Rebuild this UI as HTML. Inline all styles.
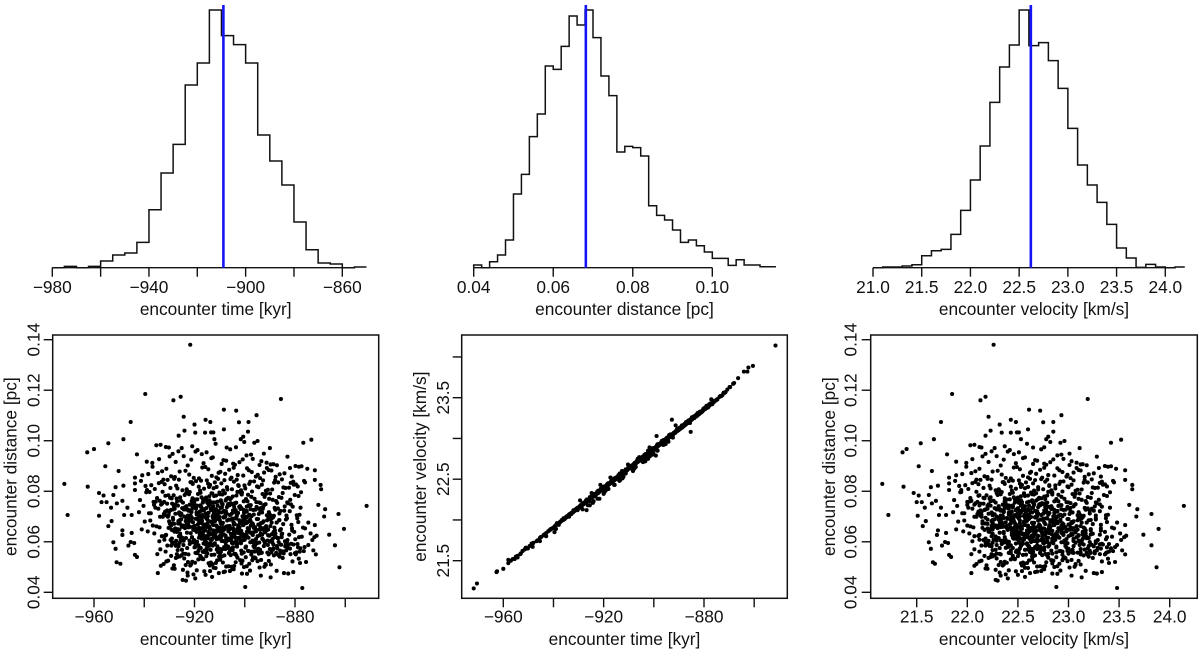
<!DOCTYPE html>
<html lang="en">
<head>
<meta charset="utf-8">
<title>Encounter parameter distributions</title>
<style>
html,body{margin:0;padding:0;background:#fff;}
svg{display:block;}
text{font-family:"Liberation Sans",Arial,sans-serif;font-size:17.3px;fill:#111;}
</style>
</head>
<body>
<svg id="chart" width="1200" height="652" viewBox="0 0 1200 652" xmlns="http://www.w3.org/2000/svg"></svg>
<script>
// ---------- histogram data ----------
const timeBinStart = -980;
const timeBinWidth = 5;
const timeCounts = [0,4,0,4,20,38,44,76,174,284,370,548,614,773,696,669,614,398,320,248,137,54,14,11,0,2];
const timeHistTicks = [-980,-960,-940,-920,-900,-880,-860];
const timeHistLabels = ['−980','','−940','','−900','','−860'];
const timeBest = -909.2;

const distBinStart = 0.04;
const distBinWidth = 0.002;
const distCounts = [8,0,18,38,83,221,280,393,461,605,595,664,755,728,773,690,575,516,347,364,360,335,186,157,143,113,76,83,66,47,28,28,7,24,8,8,3,3];
const distHistTicks = [0.04,0.06,0.08,0.10];
const distHistLabels = ['0.04','0.06','0.08','0.10'];
const distBest = 0.0682;

const velBinStart = 21.0;
const velBinWidth = 0.1;
const velCounts = [0,2,2,5,9,36,51,55,100,172,263,365,496,602,668,773,666,675,621,538,418,308,248,196,130,59,29,1,10,2,0,2];
const velHistTicks = [21,21.5,22,22.5,23,23.5,24];
const velHistLabels = ['21.0','21.5','22.0','22.5','23.0','23.5','24.0'];
const velBest = 22.62;

// ---------- scatter axis ticks ----------
const timeScatterTicks = [-960,-940,-920,-900,-880,-860];
const timeScatterLabels = ['−960','','−920','','−880',''];
const distScatterTicks = [0.04,0.06,0.08,0.10,0.12,0.14];
const distScatterLabels = ['0.04','0.06','0.08','0.10','0.12','0.14'];
const velScatterXTicks = [21.5,22,22.5,23,23.5,24];
const velScatterXLabels = ['21.5','22.0','22.5','23.0','23.5','24.0'];
const velScatterYTicks = [21.5,22,22.5,23,23.5,24];
const velScatterYLabels = ['21.5','','22.5','','23.5',''];

// ---------- samples (same order in all three arrays) ----------
const encounterTimes = [
-971.8,-970.5,-962.7,-960,-962.5,-955.5,-954.3,-950.2,-948.3,-945.4,
-942.9,-939,-939.6,-928.4,-925.5,-921.7,-924.3,-920,-924,-926.3,
-919.7,-915.6,-913.7,-915.8,-913.4,-912.5,-912.1,-908.3,-903.4,-902.3,
-898.5,-895.3,-885.6,-908.3,-898.7,-900.6,-901.6,-900.2,-896.2,-894.9,
-876.7,-873.5,-907.2,-903.5,-890,-883,-892.4,-958,-958,-956.2,
-951.4,-952.3,-957,-955,-953.2,-950.9,-954.3,-953,-952.3,-951.4,
-951,-949.5,-948.7,-948.7,-948.7,-948.3,-948,-945,-946.3,-945.4,
-944,-943.7,-943.7,-943.7,-946.7,-945,-943.7,-942.9,-851.5,-862.7,
-860.5,-866.4,-864.1,-862.3,-868.4,-868,-870.7,-869.8,-869.6,-872.1,
-872.1,-875.1,-877.4,-879.8,-878.4,-882,-880.7,-876,-899.8,-877.1,
-924.7,-923.4,-922.7,-919.7,-913,-910.3,-913.8,-905.9,-893.6,-889.7,
-884.4,-882.7,-880.7,-875.6,-878,-871.7,-872.7,-874.7,-871.4,-872.3,
-873.1,-873.8,-872.1,-874.7,-876,
-935.2,-931.4,-928.7,-925.1,-921.3,-918.8,-915.2,-911.6,-907.4,-903.9,
-936.8,-933.5,-929.9,-926.4,-922.7,-917.1,-913.3,-909.2,-905.8,-902.1,
-899.3,-896.8,-893.4,-889.7,-887.2,-934.1,-930.2,-927.5,-924.3,-919.6,
-916.4,-912.7,-908.5,-904.6,-900.8,-897.5,-894.1,-891.3,-888.6,-920.9,
-938.4,-934.6,-931.2,-927.8,-923.6,-920.3,-916.9,-913.1,-909.7,-906.2,
-902.8,-899.1,-895.6,-892.3,-889.4,-886.1,-936.7,-929.3,-925.9,-918.2,
-914.5,-911.3,-907.8,-904.4,-900.6,-897.2,-893.9,-890.5,-887.7,-884.2,
-932.9,-922.1,-915.7,-910.4,-905.3,-898.4,-894.8,-891.2,-940.8,-881.3,
-937.2,-933.1,-929.6,-926.2,-923.1,-920.7,-917.4,-914.2,-911.9,-908.6,
-905.7,-902.4,-899.8,-896.3,-893.2,-890.8,-887.9,-884.6,-881.7,-878.9,
-941.3,-935.8,-931.9,-928.1,-924.8,-921.6,-918.3,-915.1,-912.4,-909.3,
-906.9,-903.2,-900.1,-897.8,-894.5,-891.6,-888.3,-885.2,-882.4,-879.6,
-938.9,-934.2,-930.7,-927.3,-922.9,-919.4,-916.2,-913.8,-910.6,-907.1,
-904.3,-901.5,-898.2,-895.1,-892.7,-889.1,-886.7,-883.8,-880.5,-876.4,
-939.5,-932.4,-926.8,-921.1,-917.8,-914.6,-911.2,-908.1,-905.1,-902.6,
-937.9,-933.8,-930.4,-928.9,-925.7,-923.3,-920.1,-918.6,-916.6,-914.9,
-912.2,-910.1,-907.6,-905.5,-903.7,-901.2,-899.5,-897.1,-894.3,-892.1,
-889.9,-887.5,-885.4,-882.8,-880.1,-877.6,-941.7,-935.4,-931.6,-927.1,
-924.6,-922.2,-919.9,-917.6,-915.4,-913.6,-911.4,-909.5,-907.9,-906.4,
-904.8,-902.9,-900.4,-898.7,-896.1,-893.7,-891.4,-888.9,-886.4,-883.1,
-939.2,-934.9,-930.9,-928.3,-925.4,-921.9,-918.9,-916.7,-914.1,-912.9,
-910.8,-908.9,-906.6,-904.1,-901.8,-899.6,-897.4,-895.4,-892.9,-890.3,
-887.1,-884.9,-881.9,-878.6,-936.3,-932.7,-929.1,-926.9,-923.9,-920.5,
-917.2,-915.9,-913.2,-911.7,-909.9,-907.3,-905.6,-903.3,-901.1,-898.9,
-940.3,-937.4,-934.4,-931.1,-929.4,-927.6,-925.2,-923.7,-921.4,-919.3,
-917.9,-916.1,-914.4,-912.6,-911.1,-909.6,-908.2,-906.7,-905.2,-903.6,
-902.2,-900.9,-899.2,-897.6,-896.4,-894.6,-893.1,-891.7,-889.6,-887.8,
-886.2,-884.1,-882.1,-879.3,-877.8,-942.1,-936.1,-932.2,-928.6,-926.6,
-924.1,-922.4,-920.4,-918.4,-916.8,-915.3,-913.9,-912.1,-910.7,-909.1,
-907.7,-906.1,-904.7,-903.1,-901.7,-900.3,-898.6,-897.3,-895.8,-893.8,
-892.2,-890.1,-888.1,-885.8,-883.4,-880.9,-938.1,-933.3,-930.1,-927.9,
-925.6,-923.2,-921.2,-919.1,-917.3,-915.5,-914.3,-912.8,-911.5,-910.2,
-908.8,-907.5,-905.9,-904.2,-902.7,-901.3,-899.9,-898.1,-896.6,-894.4,
-892.6,-890.4,-888.4,-886.8,-884.3,-881.6,-878.2,-935.6,-931.7,-928.2,
-926.1,-924.2,-922.6,-920.8,-919.2,-917.7,-916.3,-914.7,-913.5,-912.3,
-911.8,-910.5,-909.4,-908.4,-907.2,-906.3,-905.4,-904.5,-903.8,-902.5,
-937.6,-933.9,-930.6,-928.8,-926.7,-925.3,-923.8,-922.3,-921.5,-920.2,
-918.7,-917.5,-916.5,-915.6,-914.8,-913.7,-912.6,-911.3,-910.9,-909.8,
-908.7,-907.9,-906.8,-905.8,-904.9,-904.0,-903.4,-902.3,-901.4,-900.7,
-899.4,-898.3,-897.7,-896.7,-895.9,-894.7,-893.5,-892.4,-891.1,-889.8,
-888.7,-887.3,-885.6,-883.6,-881.4,-879.1,-876.8,-939.8,-935.1,-932.6,
-929.8,-927.7,-925.8,-924.4,-922.8,-921.8,-920.6,-919.5,-918.1,-917.0,
-916.0,-915.0,-914.0,-913.0,-912.0,-911.0,-910.0,-909.0,-908.0,-907.0,
-906.0,-905.0,-903.0,-901.9,-900.5,-899.7,-898.8,-897.9,-897.0,-896.0,
-895.2,-894.2,-893.3,-892.5,-891.5,-890.6,-889.3,-888.2,-886.3,-884.7,
-883.2,-881.2,-878.7,-936.6,-933.7,-930.3,-928.5,-926.5,-924.9,-923.5,
-922.5,-921.0,-919.8,-918.5,-917.1,-916.4,-915.2,-914.2,-913.3,-912.7,
-911.6,-910.3,-909.7,-908.6,-907.8,-906.5,-905.7,-904.6,-903.5,-902.4,
-901.6,-900.2,-899.0,-898.0,-896.9,-895.7,-894.9,-893.6,-892.8,-891.8,
-890.7,-889.5,-888.0,-886.6,-885.1,-883.0,-880.3,-877.3,-941.0,-934.0,
-931.3,-929.0,-927.2,-925.0,-923.0,-921.0,-919.0,-918.0,-917.0,-915.7,
-914.5,-913.4,-912.4,-911.4,-910.4,-909.2,-908.3,-907.4,-906.2,-905.3,
-904.4,-903.6,-902.8,-901.0,-900.0,-899.1,-898.5,-897.2,-896.2,-895.3,
-894.0,-893.0,-891.9,-890.9,-889.2,-887.6,-886.0,-884.0,-882.3,-879.9,
-938.6,-933.0,-929.5,-926.0,-923.4,-921.5,-919.4,-917.9,-916.2,-914.6,
-913.1,-911.7,-910.1,-908.5,-907.1,-905.5,-903.9,-902.1,-900.6,-899.3,
-897.5,-895.5,-894.1,-892.3,-890.2,-888.5,-886.9,-885.3,-883.3,-881.1,
-878.4,-936.0,-932.0,-928.0,-925.5,-922.0,-920.3,-918.2,-916.9,-915.8,
-914.1,-912.5,-911.2,-909.3,-907.6,-906.4,-904.3,-902.0,-900.8,-898.4,
-896.5,-894.8,-892.0,-890.0,-887.4,-885.5,-883.5,-881.5,-879.4,-876.2,
-934.8,-929.2,-925.0,-921.7,-918.8,-915.1,-912.2,-909.5,-906.6,-903.7,
-901.5,-898.7,-896.1,-893.4,-890.8,-888.8,-886.5,-884.5,-882.0,-879.0,
-931.5,-926.3,-922.4,-917.5,-913.6,-910.6,-907.5,-904.8,-901.2,-897.8,
-894.6,-891.0,-888.6,-885.9,-883.7,-881.8,-878.8,-876.5,-927.4,-919.6,
-933.6,-928.4,-923.6,-919.7,-916.7,-913.8,-909.9,-906.9,-903.2,-900.4,
-896.8,-893.9,-890.5,-887.2,-884.8,-882.6,-880.0,-877.9,-925.9,-915.4,
-930.8,-924.5,-920.0,-916.0,-911.9,-907.7,-904.2,-899.5,-895.0,-889.0,
-885.7,-882.9,-880.6,-878.1,-927.0,-918.4,-910.8,-902.9,-893.2,-887.0,
-921.9,-914.9,-908.2,-901.4,-895.6,-889.4,-883.9,-879.7,-926.7,-905.1,
-917.3,-911.5,-903.3,-897.0,-891.6,-886.1,-881.0,-878.5,-899.2,-913.2,
-932.3,-927.4,-922.6,-917.7,-913.9,-909.8,-905.6,-901.3,-896.7,-892.2,
-930.5,-925.8,-921.4,-916.5,-912.1,-908.7,-904.2,-899.6,-894.9,-888.4,
-928.2,-924.1,-919.8,-915.3,-911.0,-907.4,-902.9,-898.2,-893.5,-886.7,
-933.4,-926.7,-920.9,-916.8,-912.8,-908.1,-903.6,-900.3,-895.7,-890.4,
-929.3,-923.5,-918.5,-914.4,-910.2,-906.5,-901.8,-897.4,-891.8,-884.9,
-931.2,-925.1,-921.7,-917.2,-913.5,-909.1,-905.3,-900.9,-896.2,-889.6,
-927.9,-922.8,-919.1,-915.6,-911.6,-907.9,-904.4,-899.1,-894.1,-887.3,
-934.6,-928.8,-924.6,-920.4,-916.1,-912.4,-908.4,-904.9,-901.1,-897.9,
-926.1,-922.2,-918.9,-914.8,-910.7,-906.2,-902.4,-898.6,-892.6,-885.8,
-930.1,-924.9,-920.2,-916.3,-913.1,-909.4,-905.9,-902.1,-895.3,-888.9,
-932.8,-927.1,-923.2,-919.4,-915.1,-911.3,-907.2,-903.1,-899.4,-893.1,
-928.6,-925.5,-921.1,-917.5,-914.2,-910.5,-906.8,-903.9,-900.6,-896.5,
-926.9,-922.5,-918.2,-915.9,-912.3,-908.9,-905.1,-901.6,-897.1,-891.2,
-929.7,-924.3,-920.6,-917.9,-913.7,-910.9,-907.7,-904.6,-900.1,-894.6,
-931.8,-926.4,-921.9,-916.4,-912.6,-909.7,-906.1,-902.7,-898.8,-890.1,
-927.6,-923.8,-919.6,-915.4,-911.8,-908.3,-904.7,-901.4,-897.7,-892.9,
-925.2,-920.1,-917.1,-914.6,-910.1,-906.6,-903.4,-899.8,-895.9,-887.8,
-928.9,-923.1,-918.6,-913.4,-909.2,-905.7,-902.2,-898.4,-893.8,-889.2,
-930.9,-924.7,-919.3,-915.2,-911.4,-907.1,-903.3,-900.7,-896.8,-891.5,
-926.5,-921.5,-917.8,-914.1,-910.4,-906.9,-902.6,-899.3,-895.1,-886.2,
-929.1,-922.9,-918.7,-916.6,-912.9,-908.6,-905.4,-901.9,-897.3,-892.4,
-932.1,-925.9,-920.7,-915.7,-911.1,-907.6,-904.1,-900.2,-894.4,-888.1,
-927.3,-923.4,-919.9,-917.4,-913.3,-909.6,-906.3,-902.8,-898.1,-890.7,
-928.1,-924.4,-921.2,-916.2,-912.2,-908.8,-905.2,-901.2,-896.4,-893.4,
-925.7,-922.1,-918.4,-914.9,-910.8,-907.3,-903.8,-899.7,-895.5,-889.9,
-930.3,-926.2,-920.8,-915.8,-911.9,-908.2,-904.5,-900.4,-897.6,-887.5,
-927.7,-923.7,-919.2,-916.9,-913.6,-909.3,-906.4,-902.3,-898.9,-892.8,
-929.4,-924.8,-921.3,-917.3,-912.7,-910.3,-905.8,-901.7,-894.2,-885.3,
-926.8,-922.4,-918.1,-914.3,-911.2,-907.8,-904.3,-899.2,-896.1,-891.3,
-931.4,-925.3,-920.5,-915.5,-912.5,-909.9,-906.7,-903.2,-897.2,-888.6
];

const encounterDistances = [
.0829,.0706,.0954,.0967,.0818,.0899,.0990,.0880,.1006,.1074,
.0946,.0917,.1185,.1160,.1174,.1380,.1095,.1064,.1040,.1020,
.1032,.1083,.1074,.1032,.1033,.1033,.1006,.1123,.1119,.1073,
.1074,.1101,.1165,.1045,.1036,.1016,.1006,.0995,.0992,.0999,
.0992,.1004,.0973,.0974,.0971,.0937,.0949,.0793,.0703,.0783,
.0816,.0785,.0757,.0757,.0735,.0752,.0662,.0682,.0598,.0572,
.0519,.0513,.0627,.0645,.0762,.0822,.0706,.0635,.0585,.0599,
.0595,.0854,.0831,.0805,.0735,.0706,.0548,.0540,.0742,.0710,
.0651,.0628,.0586,.0499,.0700,.0729,.0746,.0825,.0808,.0883,
.0845,.0889,.0899,.0900,.0897,.0892,.0838,.0835,.0421,.0417,
.0449,.0446,.0466,.0455,.0461,.0476,.0484,.0484,.0466,.0459,
.0476,.0474,.0480,.0520,.0516,.0550,.0566,.0587,.0624,.0618,
.0607,.0633,.0666,.0676,.0653,
.0982,.0975,.0948,.0971,.0925,.0963,.0954,.0988,.0921,.0905,
.0912,.0984,.0938,.0958,.0902,.0947,.0931,.0908,.0966,.0915,
.0942,.0928,.0919,.0906,.0903,.0927,.0973,.0916,.0939,.0957,
.0911,.0934,.0923,.0909,.0926,.0945,.0904,.0913,.0907,.0978,
.0868,.0872,.0889,.0856,.0881,.0853,.0894,.0861,.0877,.0885,
.0864,.0891,.0858,.0874,.0882,.0867,.0897,.0859,.0878,.0851,
.0887,.0855,.0869,.0893,.0862,.0876,.0852,.0884,.0857,.0871,
.0879,.0866,.0896,.0873,.0854,.0883,.0865,.0892,.0863,.0858,
.0824,.0837,.0813,.0846,.0808,.0829,.0842,.0817,.0835,.0803,
.0848,.0821,.0811,.0839,.0826,.0806,.0844,.0815,.0833,.0819,
.0841,.0809,.0828,.0849,.0804,.0836,.0818,.0843,.0812,.0831,
.0807,.0846,.0823,.0838,.0816,.0802,.0834,.0847,.0814,.0827,
.0805,.0832,.0845,.0822,.0801,.0840,.0810,.0825,.0849,.0816,
.0838,.0804,.0829,.0819,.0843,.0807,.0835,.0813,.0826,.0841,
.0821,.0846,.0811,.0836,.0803,.0830,.0817,.0844,.0808,.0824,
.0797,.0762,.0784,.0751,.0776,.0793,.0758,.0789,.0768,.0754,
.0781,.0795,.0763,.0772,.0753,.0787,.0769,.0799,.0756,.0778,
.0791,.0761,.0774,.0752,.0785,.0796,.0765,.0759,.0782,.0771,
.0755,.0788,.0767,.0794,.0775,.0757,.0783,.0764,.0792,.0750,
.0779,.0798,.0760,.0786,.0770,.0753,.0790,.0766,.0777,.0756,
.0796,.0773,.0751,.0784,.0762,.0797,.0768,.0755,.0780,.0791,
.0759,.0787,.0774,.0752,.0795,.0763,.0778,.0757,.0789,.0770,
.0754,.0793,.0766,.0781,.0758,.0798,.0772,.0761,.0785,.0751,
.0776,.0764,.0792,.0756,.0788,.0769,.0753,.0783,.0795,.0760,
.0742,.0713,.0731,.0704,.0726,.0748,.0709,.0737,.0718,.0744,
.0702,.0729,.0715,.0741,.0707,.0734,.0722,.0747,.0711,.0725,
.0738,.0701,.0719,.0745,.0708,.0732,.0716,.0749,.0703,.0727,
.0712,.0740,.0721,.0705,.0735,.0717,.0746,.0710,.0728,.0743,
.0700,.0723,.0739,.0714,.0706,.0733,.0748,.0720,.0703,.0736,
.0711,.0744,.0724,.0707,.0730,.0715,.0742,.0701,.0727,.0719,
.0746,.0709,.0734,.0722,.0704,.0739,.0713,.0747,.0718,.0731,
.0705,.0741,.0725,.0708,.0736,.0712,.0743,.0702,.0729,.0716,
.0749,.0721,.0706,.0738,.0714,.0733,.0700,.0745,.0726,.0710,
.0740,.0717,.0703,.0732,.0723,.0748,.0707,.0735,.0719,.0742,
.0711,.0728,.0704,.0737,.0715,.0744,.0724,.0701,.0730,.0712,
.0683,.0654,.0671,.0696,.0661,.0688,.0652,.0677,.0693,.0665,
.0684,.0657,.0699,.0672,.0650,.0689,.0663,.0678,.0694,.0655,
.0668,.0686,.0659,.0697,.0673,.0651,.0681,.0664,.0691,.0656,
.0675,.0698,.0660,.0687,.0653,.0670,.0692,.0658,.0679,.0666,
.0695,.0651,.0682,.0669,.0657,.0690,.0674,.0654,.0685,.0662,
.0697,.0676,.0650,.0688,.0667,.0693,.0656,.0680,.0661,.0699,
.0672,.0653,.0686,.0664,.0694,.0659,.0677,.0691,.0655,.0683,
.0668,.0696,.0652,.0675,.0689,.0660,.0698,.0671,.0657,.0684,
.0663,.0692,.0650,.0679,.0666,.0695,.0654,.0687,.0673,.0658,
.0690,.0669,.0651,.0681,.0662,.0697,.0676,.0656,.0685,.0670,
.0693,.0653,.0678,.0664,.0699,.0655,.0688,.0672,.0659,.0682,
.0667,.0694,.0651,.0686,.0674,.0657,.0691,.0661,.0680,.0696,
.0634,.0612,.0647,.0603,.0625,.0641,.0608,.0630,.0616,.0644,
.0601,.0628,.0619,.0637,.0605,.0648,.0622,.0633,.0610,.0640,
.0626,.0604,.0645,.0615,.0632,.0607,.0639,.0620,.0649,.0602,
.0627,.0613,.0643,.0609,.0636,.0618,.0600,.0646,.0624,.0611,
.0638,.0606,.0631,.0617,.0642,.0603,.0629,.0614,.0648,.0621,
.0635,.0601,.0644,.0623,.0608,.0640,.0616,.0633,.0604,.0647,
.0626,.0612,.0637,.0605,.0630,.0619,.0645,.0602,.0628,.0610,
.0641,.0622,.0607,.0649,.0615,.0634,.0600,.0627,.0643,.0613,
.0609,.0638,.0620,.0646,.0604,.0631,.0617,.0642,.0606,.0625,
.0636,.0611,.0648,.0603,.0624,.0639,.0614,.0629,.0601,.0644,
.0618,.0633,.0608,.0640,.0621,.0605,.0647,.0616,.0635,.0602,
.0628,.0645,.0610,.0637,.0623,.0607,.0641,.0612,.0630,.0649,
.0583,.0562,.0596,.0571,.0553,.0588,.0566,.0592,.0558,.0579,
.0551,.0585,.0568,.0597,.0555,.0574,.0590,.0560,.0581,.0552,
.0594,.0564,.0577,.0556,.0587,.0569,.0599,.0554,.0573,.0591,
.0561,.0582,.0550,.0575,.0593,.0559,.0586,.0567,.0553,.0598,
.0572,.0557,.0589,.0565,.0595,.0551,.0578,.0563,.0584,.0556,
.0570,.0597,.0552,.0580,.0560,.0592,.0554,.0576,.0587,.0558,
.0599,.0568,.0550,.0583,.0562,.0590,.0555,.0574,.0596,.0566,
.0585,.0553,.0578,.0559,.0594,.0571,.0552,.0581,.0564,.0597,
.0556,.0576,.0589,.0561,.0551,.0586,.0569,.0593,.0557,.0573,
.0591,.0554,.0579,.0565,.0598,.0558,.0582,.0550,.0567,.0595,
.0538,.0516,.0545,.0527,.0509,.0541,.0522,.0533,.0503,.0548,
.0512,.0536,.0520,.0544,.0506,.0529,.0547,.0514,.0535,.0501,
.0525,.0542,.0510,.0531,.0549,.0518,.0504,.0539,.0523,.0546,
.0507,.0534,.0517,.0543,.0526,.0502,.0537,.0513,.0528,.0548,
.0505,.0540,.0521,.0532,.0511,.0546,.0519,.0500,.0535,.0524,
.0544,.0508,.0530,.0515,.0541,.0503,.0527,.0549,.0512,.0536,
.0522,.0547,.0506,.0533,.0518,.0542,.0501,.0525,.0538,.0510,
.0493,.0478,.0487,.0469,.0496,.0482,.0491,.0473,.0498,.0485,
.0476,.0494,.0489,.0471,.0483,.0497,.0480,.0492,.0474,.0486,
.0716,.0658,.0742,.0623,.0691,.0574,.0635,.0702,.0648,.0589,
.0681,.0733,.0607,.0664,.0725,.0618,.0569,.0657,.0738,.0611,
.0752,.0639,.0688,.0731,.0596,.0645,.0712,.0581,.0674,.0628,
.0695,.0608,.0761,.0653,.0584,.0721,.0662,.0599,.0691,.0637,
.0642,.0727,.0673,.0566,.0618,.0746,.0689,.0631,.0561,.0705,
.0774,.0604,.0659,.0719,.0634,.0582,.0701,.0652,.0613,.0668,
.0623,.0682,.0747,.0593,.0666,.0625,.0558,.0714,.0679,.0601,
.0711,.0654,.0592,.0768,.0626,.0698,.0578,.0643,.0729,.0676,
.0665,.0735,.0612,.0684,.0572,.0647,.0755,.0621,.0586,.0633,
.0597,.0669,.0708,.0629,.0754,.0606,.0685,.0563,.0658,.0693,
.0724,.0615,.0651,.0567,.0699,.0737,.0602,.0672,.0627,.0644,
.0588,.0703,.0635,.0764,.0617,.0579,.0661,.0722,.0594,.0686,
.0647,.0575,.0692,.0638,.0732,.0656,.0609,.0741,.0667,.0583,
.0758,.0677,.0598,.0646,.0569,.0713,.0628,.0683,.0553,.0619,
.0604,.0728,.0663,.0739,.0611,.0675,.0555,.0636,.0707,.0648,
.0671,.0587,.0718,.0624,.0696,.0571,.0749,.0606,.0655,.0734,
.0632,.0694,.0565,.0659,.0743,.0601,.0717,.0577,.0641,.0689,
.0706,.0622,.0772,.0614,.0681,.0649,.0595,.0726,.0664,.0556,
.0591,.0736,.0639,.0697,.0568,.0716,.0652,.0616,.0678,.0731,
.0663,.0605,.0686,.0723,.0585,.0642,.0769,.0674,.0597,.0618,
.0744,.0657,.0576,.0631,.0709,.0599,.0668,.0739,.0561,.0653,
.0627,.0712,.0648,.0589,.0756,.0684,.0613,.0701,.0635,.0573,
.0687,.0564,.0733,.0666,.0608,.0643,.0728,.0591,.0675,.0623,
.0603,.0679,.0615,.0719,.0651,.0572,.0696,.0637,.0747,.0660,
.0729,.0634,.0692,.0581,.0665,.0752,.0609,.0657,.0578,.0704,
.0568,.0646,.0738,.0626,.0689,.0602,.0715,.0661,.0592,.0636,
.0678,.0712,.0596,.0654,.0763,.0621,.0583,.0694,.0645,.0725,
.0612,.0752,.0669,.0559,.0638,.0706,.0673,.0604,.0729,.0587
];

const encounterVelocities = [
21.16,21.22,21.36,21.40,21.37,21.52,21.54,21.65,21.67,21.74,
21.80,21.89,21.85,22.13,22.18,22.26,22.21,22.32,22.23,22.18,
22.34,22.43,22.48,22.43,22.49,22.51,22.53,22.61,22.72,22.75,
22.85,22.93,23.19,22.60,22.85,22.80,22.78,22.82,22.92,22.96,
23.42,23.52,22.65,22.76,23.11,23.28,23.01,21.47,21.51,21.52,
21.64,21.62,21.50,21.55,21.58,21.65,21.56,21.59,21.62,21.64,
21.66,21.68,21.70,21.71,21.69,21.71,21.72,21.79,21.75,21.78,
21.81,21.82,21.82,21.82,21.74,21.79,21.82,21.84,24.14,23.82,
23.89,23.74,23.82,23.87,23.67,23.68,23.60,23.63,23.63,23.56,
23.56,23.47,23.42,23.36,23.39,23.30,23.33,23.45,22.88,23.48,
22.28,22.30,22.33,22.40,22.57,22.62,22.54,22.73,23.03,23.13,
23.25,23.28,23.33,23.46,23.40,23.56,23.53,23.48,23.57,23.55,
23.52,23.51,23.56,23.48,23.45,
22.03,22.12,22.18,22.27,22.36,22.42,22.51,22.59,22.69,22.78,
21.99,22.07,22.15,22.24,22.33,22.46,22.55,22.65,22.73,22.82,
22.89,22.95,23.03,23.12,23.18,22.05,22.14,22.21,22.29,22.40,
22.48,22.57,22.67,22.76,22.85,22.93,23.01,23.08,23.14,22.37,
21.95,22.04,22.12,22.20,22.30,22.38,22.46,22.55,22.63,22.72,
22.80,22.89,22.98,23.05,23.12,23.20,21.99,22.17,22.25,22.43,
22.52,22.60,22.68,22.76,22.86,22.94,23.02,23.10,23.16,23.25,
22.08,22.34,22.49,22.62,22.74,22.91,22.99,23.08,21.89,23.32,
21.98,22.08,22.16,22.24,22.31,22.37,22.45,22.53,22.58,22.66,
22.73,22.81,22.87,22.95,23.03,23.09,23.16,23.24,23.31,23.38,
21.88,22.01,22.11,22.20,22.28,22.35,22.43,22.51,22.57,22.65,
22.70,22.79,22.87,22.92,23.00,23.07,23.15,23.23,23.29,23.36,
21.94,22.05,22.13,22.22,22.32,22.41,22.48,22.54,22.62,22.70,
22.77,22.83,22.91,22.99,23.05,23.13,23.19,23.26,23.34,23.44,
21.92,22.09,22.23,22.36,22.44,22.52,22.60,22.67,22.75,22.81,
21.94,22.04,22.12,22.16,22.23,22.29,22.37,22.42,22.47,22.51,
22.57,22.63,22.68,22.73,22.78,22.84,22.88,22.94,23.00,23.06,
23.11,23.17,23.22,23.28,23.35,23.41,21.87,22.02,22.11,22.22,
22.28,22.33,22.39,22.45,22.50,22.54,22.60,22.64,22.68,22.72,
22.76,22.80,22.86,22.90,22.96,23.02,23.07,23.13,23.19,23.27,
21.93,22.03,22.13,22.19,22.26,22.34,22.42,22.47,22.53,22.56,
22.61,22.66,22.71,22.77,22.83,22.88,22.93,22.98,23.04,23.10,
23.18,23.23,23.30,23.38,22.00,22.09,22.17,22.23,22.30,22.38,
22.46,22.49,22.56,22.59,22.64,22.70,22.74,22.79,22.84,22.90,
21.90,21.97,22.05,22.13,22.17,22.21,22.27,22.31,22.36,22.41,
22.44,22.49,22.53,22.57,22.60,22.64,22.67,22.71,22.75,22.78,
22.81,22.85,22.89,22.93,22.96,23.00,23.04,23.07,23.12,23.17,
23.21,23.26,23.31,23.37,23.41,21.86,22.00,22.10,22.18,22.23,
22.29,22.33,22.38,22.43,22.47,22.50,22.54,22.58,22.61,22.65,
22.69,22.72,22.76,22.80,22.83,22.86,22.90,22.94,22.97,23.02,
23.06,23.11,23.16,23.21,23.27,23.33,21.95,22.07,22.14,22.20,
22.25,22.31,22.36,22.41,22.45,22.50,22.53,22.56,22.60,22.63,
22.66,22.69,22.73,22.77,22.81,22.84,22.87,22.92,22.95,23.01,
23.05,23.10,23.15,23.19,23.25,23.31,23.39,22.01,22.11,22.20,
22.25,22.29,22.33,22.37,22.41,22.45,22.48,22.52,22.55,22.58,
22.59,22.62,22.65,22.67,22.70,22.72,22.74,22.76,22.78,22.81,
21.97,22.06,22.14,22.18,22.23,22.27,22.30,22.34,22.36,22.39,
22.42,22.45,22.47,22.50,22.52,22.54,22.57,22.60,22.61,22.64,
22.66,22.68,22.71,22.73,22.75,22.77,22.79,22.81,22.84,22.85,
22.88,22.91,22.92,22.95,22.97,23.00,23.03,23.05,23.09,23.12,
23.14,23.18,23.22,23.27,23.32,23.37,23.43,21.91,22.03,22.09,
22.15,22.20,22.25,22.28,22.32,22.35,22.38,22.40,22.43,22.46,
22.48,22.51,22.53,22.56,22.58,22.60,22.63,22.65,22.67,22.70,
22.72,22.75,22.80,22.82,22.86,22.88,22.90,22.92,22.94,22.97,
22.99,23.01,23.03,23.05,23.08,23.10,23.13,23.15,23.20,23.24,
23.27,23.32,23.38,22.00,22.07,22.15,22.20,22.25,22.29,22.32,
22.35,22.39,22.41,22.44,22.47,22.49,22.51,22.54,22.56,22.57,
22.60,22.63,22.65,22.67,22.69,22.73,22.75,22.77,22.80,22.82,
22.84,22.87,22.90,22.93,22.96,22.98,23.00,23.03,23.05,23.07,
23.10,23.13,23.17,23.20,23.24,23.29,23.36,23.43,21.89,22.05,
22.12,22.18,22.22,22.27,22.32,22.37,22.41,22.44,22.46,22.49,
22.52,22.55,22.57,22.60,22.62,22.65,22.67,22.69,22.72,22.74,
22.76,22.78,22.80,22.85,22.87,22.89,22.91,22.94,22.96,22.99,
23.02,23.05,23.07,23.10,23.14,23.18,23.22,23.27,23.31,23.37,
21.96,22.07,22.16,22.25,22.31,22.36,22.41,22.44,22.48,22.52,
22.56,22.59,22.63,22.67,22.70,22.74,22.78,22.82,22.86,22.89,
22.93,22.98,23.01,23.05,23.10,23.14,23.18,23.22,23.27,23.32,
23.38,22.02,22.12,22.21,22.28,22.36,22.40,22.45,22.48,22.51,
22.55,22.59,22.62,22.66,22.70,22.73,22.78,22.84,22.87,22.93,
22.97,23.01,23.07,23.12,23.18,23.23,23.28,23.33,23.38,23.46,
22.04,22.18,22.28,22.36,22.43,22.52,22.59,22.65,22.72,22.80,
22.85,22.92,22.98,23.05,23.11,23.16,23.21,23.26,23.32,23.40,
22.12,22.24,22.33,22.45,22.54,22.62,22.69,22.76,22.84,22.93,
23.00,23.09,23.15,23.21,23.27,23.31,23.38,23.44,22.22,22.41,
22.07,22.20,22.32,22.41,22.48,22.55,22.64,22.72,22.81,22.88,
22.97,23.04,23.12,23.20,23.26,23.31,23.37,23.42,22.25,22.50,
22.14,22.29,22.39,22.49,22.59,22.69,22.77,22.88,22.99,23.13,
23.22,23.29,23.34,23.40,22.24,22.43,22.62,22.81,23.04,23.19,
22.34,22.51,22.67,22.83,22.97,23.12,23.25,23.36,22.25,22.75,
22.45,22.59,22.79,22.94,23.07,23.20,23.33,23.39,22.89,22.55,
22.09,22.21,22.33,22.45,22.54,22.64,22.74,22.84,22.95,23.06,
22.14,22.25,22.36,22.47,22.58,22.66,22.77,22.88,22.99,23.15,
22.19,22.29,22.39,22.50,22.61,22.69,22.80,22.91,23.03,23.19,
22.07,22.23,22.37,22.47,22.56,22.67,22.78,22.86,22.97,23.10,
22.17,22.31,22.43,22.53,22.64,22.72,22.83,22.94,23.07,23.24,
22.12,22.27,22.35,22.46,22.55,22.65,22.75,22.85,22.96,23.12,
22.20,22.32,22.41,22.50,22.60,22.69,22.76,22.89,23.01,23.17,
22.04,22.18,22.28,22.38,22.48,22.57,22.67,22.75,22.84,22.92,
22.24,22.33,22.42,22.51,22.61,22.72,22.81,22.90,23.05,23.22,
22.15,22.27,22.38,22.48,22.56,22.65,22.73,22.82,22.99,23.14,
22.08,22.22,22.31,22.41,22.51,22.60,22.70,22.80,22.89,23.04,
22.18,22.26,22.37,22.45,22.53,22.62,22.71,22.78,22.85,22.95,
22.22,22.33,22.43,22.49,22.57,22.66,22.75,22.83,22.94,23.09,
22.16,22.29,22.38,22.44,22.54,22.61,22.69,22.76,22.87,23.00,
22.11,22.24,22.35,22.48,22.57,22.64,22.72,22.81,22.90,23.11,
22.21,22.30,22.40,22.50,22.59,22.67,22.76,22.84,22.93,23.04,
22.27,22.39,22.46,22.52,22.63,22.71,22.79,22.88,22.97,23.17,
22.18,22.32,22.42,22.55,22.65,22.73,22.82,22.91,23.02,23.13,
22.13,22.28,22.41,22.51,22.60,22.70,22.79,22.85,22.95,23.07,
22.23,22.35,22.44,22.53,22.62,22.71,22.81,22.89,22.99,23.22,
22.17,22.32,22.42,22.47,22.56,22.66,22.74,22.83,22.94,23.05,
22.10,22.25,22.37,22.49,22.60,22.69,22.77,22.87,23.00,23.15,
22.21,22.31,22.39,22.45,22.55,22.64,22.72,22.80,22.92,23.09,
22.20,22.29,22.36,22.48,22.57,22.65,22.74,22.84,22.95,23.02,
22.25,22.34,22.43,22.51,22.61,22.69,22.78,22.88,22.98,23.11,
22.14,22.24,22.37,22.49,22.58,22.67,22.76,22.86,22.93,23.18,
22.20,22.31,22.36,22.46,22.57,22.64,22.75,22.85,23.03,23.23,
22.24,22.33,22.43,22.52,22.60,22.68,22.77,22.89,22.96,23.08,
22.12,22.26,22.38,22.50,22.57,22.63,22.71,22.79,22.94,23.16
];

// ---------- helpers ----------
const svgNS = 'http://www.w3.org/2000/svg';
const root = document.getElementById('chart');
const linear = (d0, d1, r0, r1) => v => r0 + (v - d0) * (r1 - r0) / (d1 - d0);
function make(parent, tag) {
  const el = document.createElementNS(svgNS, tag);
  parent.appendChild(el);
  return el;
}
function lineEl(parent, x1, y1, x2, y2, w, c) {
  const l = make(parent, 'line');
  l.setAttribute('x1', x1); l.setAttribute('y1', y1);
  l.setAttribute('x2', x2); l.setAttribute('y2', y2);
  l.setAttribute('stroke', c || '#111');
  l.setAttribute('stroke-width', w || 1.4);
  return l;
}
function textEl(parent, str, x, y, rotate) {
  const t = make(parent, 'text');
  t.textContent = str;
  t.setAttribute('text-anchor', 'middle');
  if (rotate) {
    t.setAttribute('transform', 'translate(' + x + ',' + y + ') rotate(-90)');
  } else {
    t.setAttribute('x', x);
    t.setAttribute('y', y);
  }
  return t;
}
function bottomAxis(parent, scale, ticks, labels, axisY, labelY, name) {
  ticks.forEach((v, i) => {
    const tick = lineEl(parent, scale(v), axisY, scale(v), axisY + 9);
    
    
    if (labels[i]) {
      const lab = textEl(parent, labels[i], scale(v), labelY);
      
      
    }
  });
}
function leftAxis(parent, scale, ticks, labels, axisX, labelX, name) {
  ticks.forEach((v, i) => {
    const tick = lineEl(parent, axisX - 9, scale(v), axisX, scale(v));
    
    
    if (labels[i]) {
      const lab = textEl(parent, labels[i], labelX, scale(v), true);
      
      
    }
  });
}

// ---------- histogram panels ----------
function drawHistogram(name, xLabel, binStart, binWidth, counts, ticks, labels, best, xAt, labelCx) {
  const g = make(root, 'g');
  
  
  const base = 267.7;
  const peak = Math.max.apply(null, counts);
  const y = linear(0, peak, base, 10);
  const x = xAt;
  const pts = [];
  pts.push('M' + x(binStart) + ' ' + base);
  counts.forEach((c, i) => {
    pts.push('L' + x(binStart + i * binWidth) + ' ' + y(c));
    pts.push('L' + x(binStart + (i + 1) * binWidth) + ' ' + y(c));
  });
  const outline = make(g, 'path');
  outline.setAttribute('d', pts.join(''));
  outline.setAttribute('fill', 'none');
  outline.setAttribute('stroke', '#111');
  outline.setAttribute('stroke-width', '1.5');
  
  

  const axisLine = lineEl(g, x(ticks[0]), base, x(ticks[ticks.length - 1]), base);
  
  
  bottomAxis(g, x, ticks, labels, base, 293, name + '-x');

  const title = textEl(g, xLabel, labelCx, 315);
  
  

  const marker = lineEl(g, x(best), 5, x(best), base, 2.6, '#1414f5');
  
  
}
drawHistogram('time-histogram', 'encounter time [kyr]', timeBinStart, timeBinWidth, timeCounts,
  timeHistTicks, timeHistLabels, timeBest, linear(-980, -860, 52.3, 342.3), 215.7);
drawHistogram('distance-histogram', 'encounter distance [pc]', distBinStart, distBinWidth, distCounts,
  distHistTicks, distHistLabels, distBest, linear(0.04, 0.10, 473.7, 712.3), 624.5);
drawHistogram('velocity-histogram', 'encounter velocity [km/s]', velBinStart, velBinWidth, velCounts,
  velHistTicks, velHistLabels, velBest, linear(21, 24, 873, 1165.3), 1034);

// ---------- scatter panels ----------
function drawScatter(name, xs, ys, box, xScale, yScale, xTicks, xLabels, yTicks, yLabels, xTitle, yTitle, tickLabelX, titleX) {
  const g = make(root, 'g');
  
  
  const frame = make(g, 'rect');
  frame.setAttribute('x', box.l);
  frame.setAttribute('y', box.t);
  frame.setAttribute('width', box.r - box.l);
  frame.setAttribute('height', box.b - box.t);
  frame.setAttribute('fill', 'none');
  frame.setAttribute('stroke', '#111');
  frame.setAttribute('stroke-width', '1.5');
  
  
  bottomAxis(g, xScale, xTicks, xLabels, box.b, 622.5, name + '-x');
  leftAxis(g, yScale, yTicks, yLabels, box.l, tickLabelX, name + '-y');
  const xt = textEl(g, xTitle, (box.l + box.r) / 2, 645);
  
  
  const yt = textEl(g, yTitle, titleX, (box.t + box.b) / 2, true);
  
  
  const dots = make(g, 'g');
  
  
  const n = Math.min(xs.length, ys.length);
  for (let i = 0; i < n; i++) {
    const c = make(dots, 'circle');
    c.setAttribute('cx', xScale(xs[i]).toFixed(2));
    c.setAttribute('cy', yScale(ys[i]).toFixed(2));
    c.setAttribute('r', '2.05');
    c.setAttribute('fill', '#000');
    
    
  }
}
const distY = linear(0.04, 0.14, 592.3, 339.7);
drawScatter('time-distance-scatter', encounterTimes, encounterDistances,
  {l: 52.7, r: 378.7, t: 335, b: 598.3}, linear(-960, -880, 94, 295), distY,
  timeScatterTicks, timeScatterLabels, distScatterTicks, distScatterLabels,
  'encounter time [kyr]', 'encounter distance [pc]', 39.3, 16.7);
drawScatter('time-velocity-scatter', encounterTimes, encounterVelocities,
  {l: 461.7, r: 787.3, t: 335, b: 598.3}, linear(-960, -880, 503.3, 704), linear(21.5, 23.5, 560.7, 397.7),
  timeScatterTicks, timeScatterLabels, velScatterYTicks, velScatterYLabels,
  'encounter time [kyr]', 'encounter velocity [km/s]', 449, 426);
drawScatter('velocity-distance-scatter', encounterVelocities, encounterDistances,
  {l: 870.7, r: 1197.3, t: 335, b: 598.3}, linear(21.5, 24, 916.7, 1169.7), distY,
  velScatterXTicks, velScatterXLabels, distScatterTicks, distScatterLabels,
  'encounter velocity [km/s]', 'encounter distance [pc]', 856.7, 835);
</script>
</body>
</html>
